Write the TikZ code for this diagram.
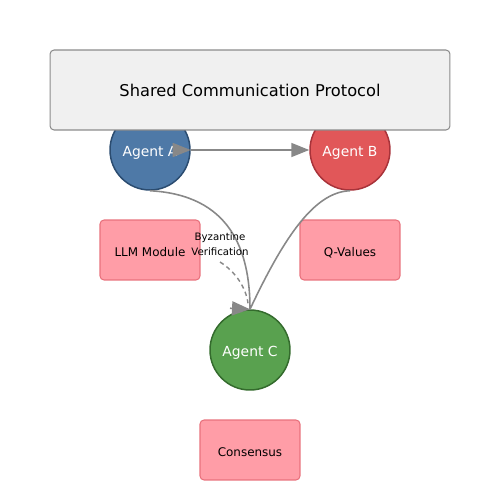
\documentclass[tikz,border=0pt]{standalone}
\usepackage{fontspec}
\setmainfont{DejaVu Sans}
\usetikzlibrary{arrows.meta,positioning}
\usetikzlibrary{calc}

\definecolor{agentA}{HTML}{4E79A7}
\definecolor{agentAline}{HTML}{2B4C70}
\definecolor{agentB}{HTML}{E15759}
\definecolor{agentBline}{HTML}{A8333A}
\definecolor{agentC}{HTML}{59A14F}
\definecolor{agentCline}{HTML}{346B2D}
\definecolor{modfill}{HTML}{FF9DA7}
\definecolor{modline}{HTML}{E8717C}
\definecolor{hdrfill}{HTML}{F0F0F0}
\definecolor{hdrline}{HTML}{8C8C8C}
\definecolor{edgegray}{HTML}{888888}

\tikzset{
  agent/.style={circle,minimum size=1.6cm,inner sep=0pt,line width=0.85pt,
    text=white,font=\fontsize{7.9}{9.5}\selectfont,text height=1.35ex,text depth=-0.25ex},
  module/.style={rectangle,rounded corners=2.3pt,minimum width=2cm,minimum height=1.2cm,
    inner sep=0pt,fill=modfill,draw=modline,line width=0.6pt,
    font=\fontsize{6.8}{8}\selectfont,text height=1.35ex,text depth=-0.25ex},
  edge/.style={draw=edgegray,line width=0.9pt,
    -{Triangle[length=0.36cm,width=0.28cm,fill=edgegray]}},
}

\begin{document}
\begin{tikzpicture}[x=0.02cm,y=-0.02cm]
\useasboundingbox (0,0) rectangle (500,500);
% agents
\node[agent,fill=agentA,draw=agentAline] (A) at (150,150) {Agent A};
\node[agent,fill=agentB,draw=agentBline] (B) at (350,150) {Agent B};
\node[agent,fill=agentC,draw=agentCline] (C) at (250,350) {Agent C};
% header
\node[rectangle,rounded corners=2.3pt,minimum width=8cm,minimum height=1.6cm,
  fill=hdrfill,draw=hdrline,line width=0.6pt,font=\fontsize{9.25}{11}\selectfont]
  (P) at (250,90) {Shared Communication Protocol};
% modules
\node[module] (L) at (150,250) {LLM Module};
\node[module] (Q) at (350,250) {Q-Values};
\node[module] (S) at (250,450) {Consensus};
% edges
\draw[edge] ($(A.east)+(-18,0)$) -- (A.east);
\draw[edge] (A.east) -- (B.west);
\draw[draw=edgegray,line width=0.9pt] (A.south) .. controls (230,195) and (250,250) .. (C.north);
\draw[draw=edgegray,line width=0.9pt] (B.south) .. controls (315,192) and (285,235) .. (C.north);
\draw[edge] ($(C.north)+(-20,-1)$) -- (C.north);
\coordinate (V) at (220,262);
\draw[draw=edgegray,line width=0.8pt,dash pattern=on 2.5pt off 2pt]
  (V) .. controls (236,272) and (246,288) .. ($(C.north)+(-2,-6)$);
\node[font=\fontsize{5.8}{8.5}\selectfont,align=center] (BV) at (220,244)
  {Byzantine\\Verification};
\end{tikzpicture}
\end{document}
